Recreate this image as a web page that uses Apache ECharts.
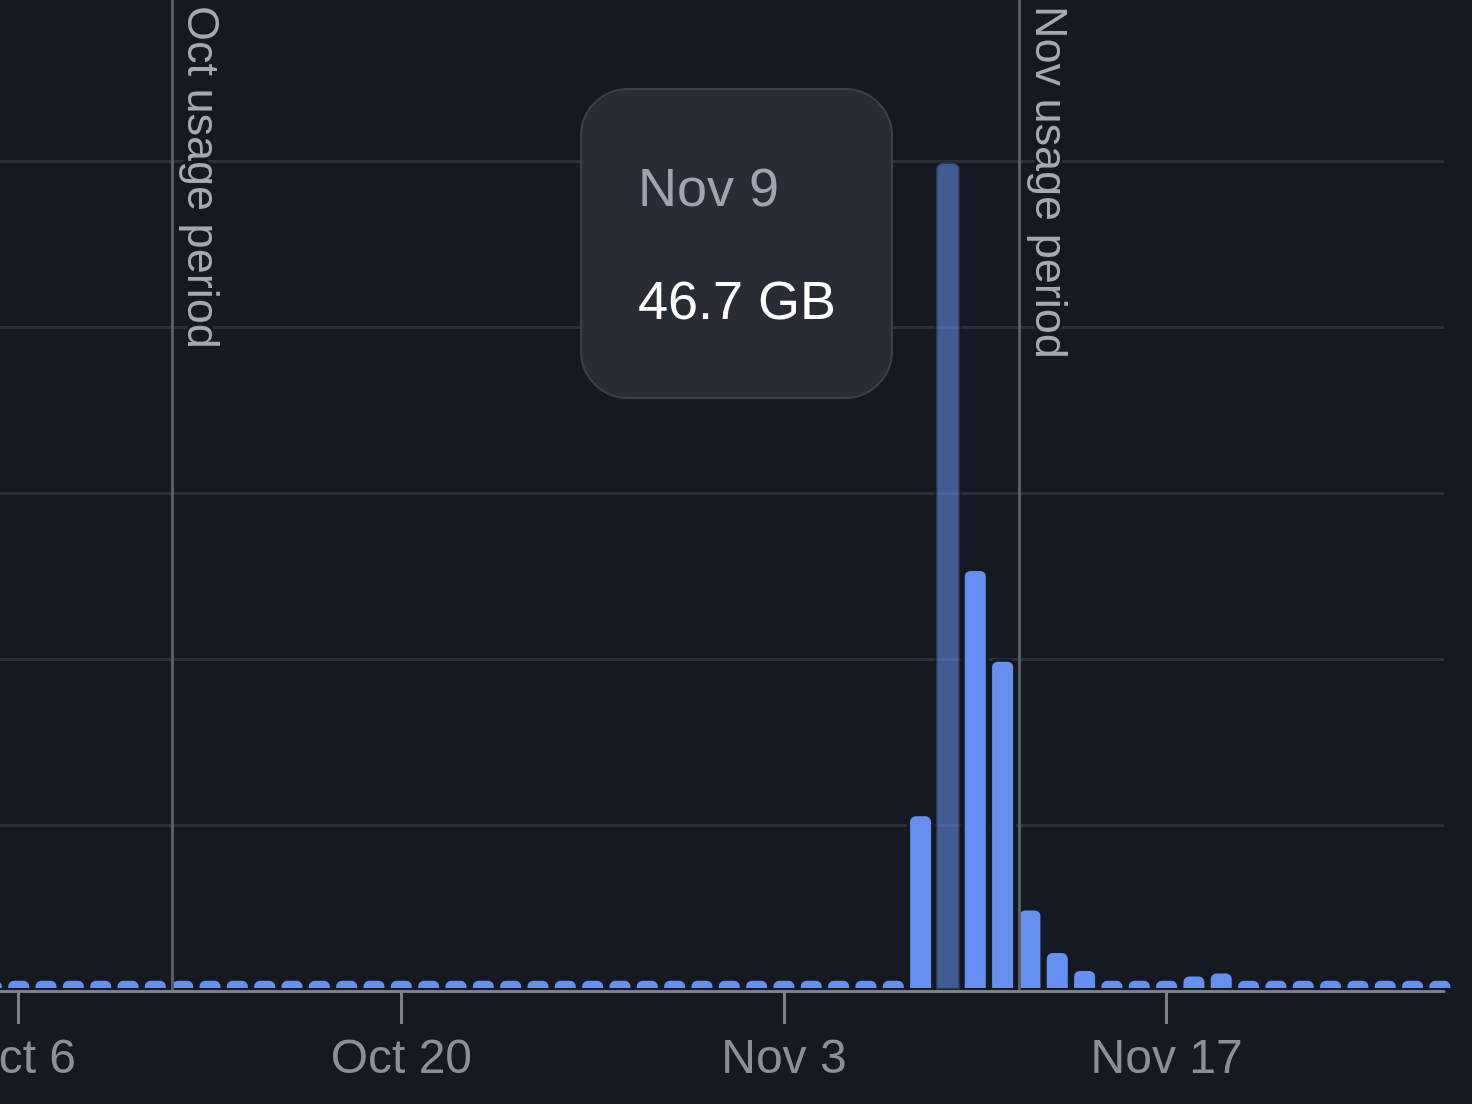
<!DOCTYPE html>
<html>
<head>
<meta charset="utf-8">
<script src="https://cdn.jsdelivr.net/npm/echarts@6/dist/echarts.min.js"></script>
<style>
  html, body { margin: 0; padding: 0; background: #151921; }
  #chart { width: 1472px; height: 1104px; }
</style>
</head>
<body>
<div id="chart"></div>
<script>
// Daily categories (one bar per day)
const dates = [
  'Oct 5','Oct 6','Oct 7','Oct 8','Oct 9','Oct 10','Oct 11','Oct 12','Oct 13','Oct 14',
  'Oct 15','Oct 16','Oct 17','Oct 18','Oct 19','Oct 20','Oct 21','Oct 22','Oct 23','Oct 24',
  'Oct 25','Oct 26','Oct 27','Oct 28','Oct 29','Oct 30','Oct 31','Nov 1','Nov 2','Nov 3',
  'Nov 4','Nov 5','Nov 6','Nov 7','Nov 8','Nov 9','Nov 10','Nov 11','Nov 12','Nov 13',
  'Nov 14','Nov 15','Nov 16','Nov 17','Nov 18','Nov 19','Nov 20','Nov 21','Nov 22','Nov 23',
  'Nov 24','Nov 25','Nov 26','Nov 27'
];
// Daily usage in GB
const usageGB = [
  0.74,0.74,0.74,0.74,0.74,0.74,0.74,0.74,0.74,0.74,
  0.74,0.74,0.74,0.74,0.74,0.74,0.74,0.74,0.74,0.74,
  0.74,0.74,0.74,0.74,0.74,0.74,0.74,0.74,0.74,0.74,
  0.74,0.74,0.74,0.74,10.0,46.7,23.8,18.7,4.7,2.3,
  1.3,0.74,0.74,0.74,0.98,1.15,0.74,0.74,0.74,0.74,
  0.74,0.74,0.74,0.74
];
// Tick labels shown on the x axis
const tickLabels = ['Oct 6', 'Oct 20', 'Nov 3', 'Nov 17'];
// Usage-period boundaries (day index position) and their labels
const periodPositions = [6.62, 37.62];
const periodLabels = ['Oct usage period', 'Nov usage period'];
// Hovered day shown in the tooltip
const hoveredDate = 'Nov 9';

const BG = '#151921';
const FONT = '"Liberation Sans", Arial, Helvetica, sans-serif';
const hoverIdx = dates.indexOf(hoveredDate);
const tickValues = tickLabels.map(l => dates.indexOf(l));
const yMax = 55.76;
const yInterval = 9.34;

const chart = echarts.init(document.getElementById('chart'), null, { renderer: 'canvas' });

const option = {
  backgroundColor: BG,
  animation: false,
  grid: { left: 0, right: 28, top: 0, bottom: 113, containLabel: false, outerBoundsMode: 'none' },
  tooltip: {
    trigger: 'item',
    triggerOn: 'none',
    alwaysShowContent: true,
    transitionDuration: 0,
    position: [580, 88],
    backgroundColor: '#272c35',
    borderColor: '#3b414a',
    borderWidth: 2.5,
    padding: 0,
    extraCssText: 'border-radius:48px;box-shadow:none;width:313px;height:311px;box-sizing:border-box;',
    formatter: function (p) {
      const i = p.dataIndex;
      return '<div style="padding:67px 0 0 56px;font-family:' + FONT.replace(/"/g, "'") + ';">' +
        '<div style="font-size:54px;line-height:60px;color:#9ea5af;">' + dates[i] + '</div>' +
        '<div style="font-size:54px;line-height:60px;color:#ffffff;margin-top:53px;">' + usageGB[i] + ' GB</div>' +
        '</div>';
    }
  },
  xAxis: {
    type: 'value',
    min: 0.316,
    max: 53.15,
    z: 5,
    splitLine: { show: false },
    axisLine: { show: true, onZero: false, lineStyle: { color: '#7c8188', width: 3 } },
    axisTick: { show: true, customValues: tickValues, length: 33, lineStyle: { color: '#7c8188', width: 3 } },
    axisLabel: {
      show: true,
      customValues: tickValues,
      margin: 45,
      color: '#8b9096',
      fontSize: 48,
      fontFamily: FONT,
      formatter: v => dates[Math.round(v)]
    }
  },
  yAxis: {
    type: 'value',
    min: 0,
    max: yMax,
    interval: yInterval,
    axisLine: { show: false },
    axisTick: { show: false },
    axisLabel: { show: false },
    splitLine: { show: true, showMinLine: false, showMaxLine: false, lineStyle: { color: '#2c3139', width: 3 } }
  },
  series: [{
    type: 'bar',
    barWidth: 27,
    clip: true,
    itemStyle: {
      color: '#6590f0',
      borderColor: BG,
      borderWidth: 3,
      borderRadius: [7, 7, 0, 0]
    },
    data: usageGB.map((v, i) => i === hoverIdx
      ? { value: [i, v], itemStyle: { opacity: 0.55 } }
      : { value: [i, v] }),
    markLine: {
      silent: true,
      symbol: 'none',
      animation: false,
      lineStyle: { color: '#585d65', width: 3, type: 'solid' },
      label: {
        show: true,
        position: 'insideStartTop',
        formatter: '{b}',
        color: '#a3a9b1',
        fontSize: 45,
        fontFamily: FONT,
        textBorderColor: BG,
        textBorderWidth: 6,
        distance: 6
      },
      data: periodPositions.map((p, i) => [
        { name: periodLabels[i], xAxis: p, yAxis: yMax },
        { xAxis: p, yAxis: 0 }
      ])
    }
  }]
};

chart.setOption(option);
chart.dispatchAction({ type: 'showTip', seriesIndex: 0, dataIndex: hoverIdx });
</script>
</body>
</html>
